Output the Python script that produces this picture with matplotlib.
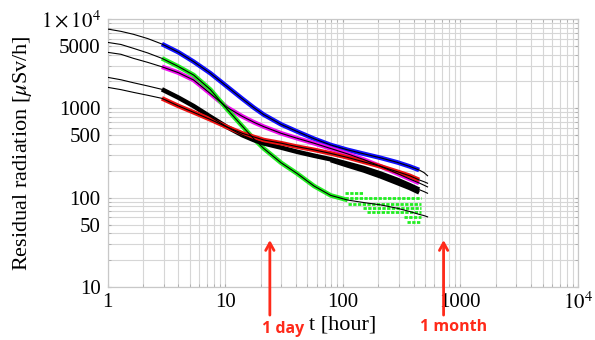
#!/usr/bin/env python3
"""Residual radiation decay curves, log-log, with 1 day / 1 month markers."""

import matplotlib
matplotlib.use("Agg")
import matplotlib.pyplot as plt
from matplotlib.ticker import FixedLocator, NullFormatter
import matplotlib.transforms as mtransforms


# ── data ─────────────────────────────────────────────────────────────────────

# common time grid (hours); fits span the whole grid
t_grid = [1, 1.3, 1.66, 2.2, 2.9, 4, 5.4, 7.5, 10.4, 14, 17.5, 21.3,
          30, 41, 57, 79, 110, 152, 210, 292, 370, 446, 490, 526]

# dose rate in uSv/h at each grid point
blue_v    = [7730, 7280, 6750, 6040, 5250, 4250, 3330, 2470, 1750, 1280, 1020, 850,
             660, 550, 457, 389, 343, 309, 279, 248, 224, 204, 191, 176]
green_v   = [5480, 5190, 4700, 4170, 3630, 2940, 2360, 1620, 977, 631, 457, 355,
             245, 186, 135, 106, 94, 88, 83, 76, 70, 65, 63, 61]
magenta_v = [4240, 4030, 3630, 3270, 2920, 2510, 2075, 1460, 1023, 813, 700, 624,
             525, 462, 407, 355, 309, 266, 224, 186, 162, 146, 138, 132]
black_v   = [2225, 2090, 1935, 1780, 1632, 1320, 1060, 805, 617, 501, 442, 405,
             363, 326, 295, 269, 240, 214, 186, 158, 138, 123, 117, 112]
red_v     = [1720, 1620, 1510, 1400, 1294, 1064, 902, 750, 617, 525, 479, 442,
             407, 372, 343, 313, 282, 251, 224, 195, 176, 158, 151, 145]

# measured span on the grid: index of first / last measured point
meas_first = 4            # t = 2.9 h
meas_last  = 21           # t = 446 h
green_last = 16           # green band stops at ~110 h, then discrete levels

# black readings spread downward late on: lower edge of the band
black_low_t = [79, 110, 152, 210, 292, 370, 446]
black_low_v = [262, 228, 200, 172, 145, 128, 114]

# late green readings sit on discrete levels: (level, t_start, t_end)
green_rows = [
    (113, 105, 150),
    (100, 105, 460),
    (85, 110, 460),
    (76, 150, 460),
    (69, 160, 460),
    (60, 330, 460),
    (53, 350, 460),
]

series = [
    (blue_v, "#1010ff", meas_last),
    (magenta_v, "#ee10ee", meas_last),
    (green_v, "#22ee22", green_last),
    (black_v, "#000000", meas_last),
    (red_v, "#ee1010", meas_last),
]

y_ticks  = [10, 50, 100, 500, 1000, 5000, 10000]
y_labels = ["10", "50", "100", "500", "1000", "5000", r"$1\times10^4$"]
x_ticks  = [1, 10, 100, 1000, 10000]
x_labels = ["1", "10", "100", "1000", r"$10^4$"]

markers = [(24, "1 day"), (720, "1 month")]


# ── plot ─────────────────────────────────────────────────────────────────────

def main() -> None:
    plt.rcParams["font.family"] = ["Liberation Serif", "DejaVu Serif"]
    plt.rcParams["mathtext.fontset"] = "stix"

    fig = plt.figure(figsize=(5.95, 3.40), dpi=100)
    ax = fig.add_axes([0.1807, 0.156, 0.7907, 0.788])
    ax.set_xscale("log")
    ax.set_yscale("log")
    ax.set_xlim(1, 1e4)
    ax.set_ylim(10, 1e4)

    # grid on every decade subdivision
    minor_x = [m * 10 ** d for d in range(0, 4) for m in range(2, 10)]
    minor_y = [m * 10 ** d for d in range(1, 4) for m in range(2, 10)]
    ax.xaxis.set_major_locator(FixedLocator(x_ticks))
    ax.yaxis.set_major_locator(FixedLocator(y_ticks))
    ax.xaxis.set_minor_locator(FixedLocator(minor_x))
    ax.yaxis.set_minor_locator(FixedLocator([v for v in minor_y if v not in y_ticks]))
    ax.xaxis.set_minor_formatter(NullFormatter())
    ax.yaxis.set_minor_formatter(NullFormatter())
    ax.set_xticklabels(x_labels)
    ax.set_yticklabels(y_labels)
    ax.grid(True, which="both", color="#d6d6d6", lw=0.8)
    ax.set_axisbelow(True)
    ax.tick_params(which="both", direction="in", length=2.5, color="#aaaaaa",
                   labelsize=15, top=True, right=True)
    ax.tick_params(axis="y", pad=5)
    ax.tick_params(axis="x", pad=4)
    for sp in ax.spines.values():
        sp.set_color("#c8c8c8")
        sp.set_linewidth(0.9)

    # measured bands, then fits on top
    for vals, col, last in series:
        ax.plot(t_grid[meas_first:last + 1], vals[meas_first:last + 1],
                color=col, lw=3.3, solid_capstyle="butt", zorder=3)
    ax.plot(black_low_t, black_low_v, color="black", lw=3.0,
            solid_capstyle="butt", zorder=2.9)
    for level, t0, t1 in green_rows:
        ax.plot([t0, t1], [level, level], color="#22ee22", lw=2.0,
                ls=(0, (1.2, 0.5)), zorder=3)
    for vals, col, last in series:
        ax.plot(t_grid, vals, color="black", lw=0.8, zorder=4)

    ax.set_xlabel("t [hour]", fontsize=16, labelpad=1)
    ax.set_ylabel(r"Residual radiation [$\mu$Sv/h]", fontsize=16, labelpad=5)

    # ── red arrows below the curves ──────────────────────────────────────────
    trans = mtransforms.blended_transform_factory(ax.transData, ax.transAxes)
    for t_mark, label in markers:
        ax.annotate("", xy=(t_mark, 0.175), xytext=(t_mark, -0.105),
                    xycoords=trans, textcoords=trans, annotation_clip=False,
                    arrowprops=dict(arrowstyle="->,head_length=0.45,head_width=0.25",
                                    color="#ff2a1a", lw=2, mutation_scale=12,
                                    shrinkA=0, shrinkB=0))
    fig.text(283 / 595, 1 - 329 / 340, markers[0][1], color="#ff2a1a",
             fontsize=11.5, fontweight="bold", family=["Open Sans", "DejaVu Sans"],
             ha="center", va="center")
    fig.text(454 / 595, 1 - 327 / 340, markers[1][1], color="#ff2a1a",
             fontsize=11.5, fontweight="bold", family=["Open Sans", "DejaVu Sans"],
             ha="center", va="center")

    fig.savefig("out.png", dpi=100)
    plt.close(fig)


if __name__ == "__main__":
    main()
